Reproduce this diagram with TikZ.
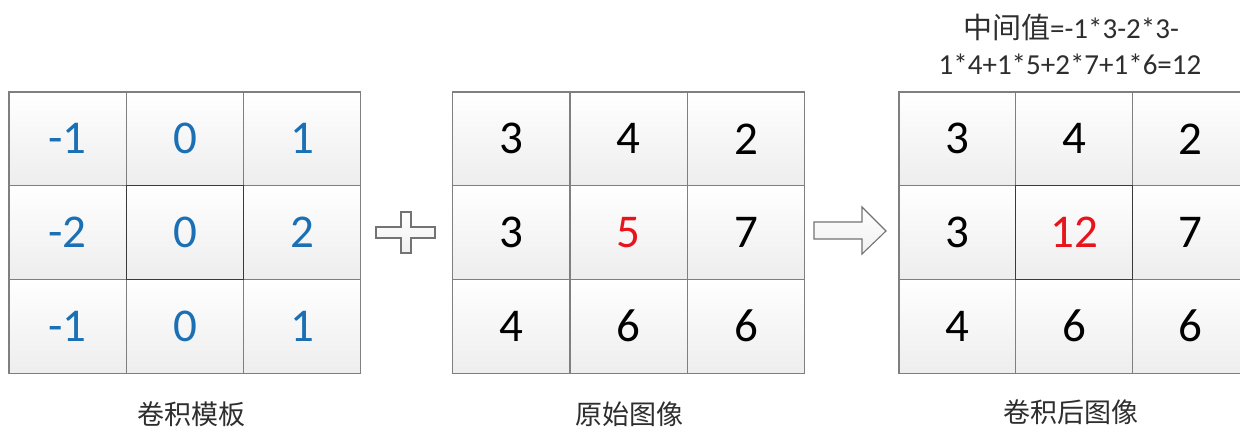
\documentclass[tikz,border=0pt]{standalone}
\usepackage{fontspec}
\setmainfont{Carlito}
\newfontfamily\cjk{Noto Sans CJK SC}
\definecolor{numblue}{HTML}{1A6FB5}
\definecolor{numred}{HTML}{E8141B}
\definecolor{cellline}{HTML}{7F7F7F}
\definecolor{centerline}{HTML}{3A3A3A}
\definecolor{labelgray}{HTML}{2E2E2E}
\tikzset{
  cell/.style={rectangle, draw=cellline, line width=1.1pt, top color=white, bottom color=black!7,
    minimum width=117.3pt, minimum height=93.7pt, inner sep=0pt, anchor=center,
    font=\fontsize{47}{52}\selectfont},
  cellc/.style={cell, minimum width=116.7pt},
  centercell/.style={draw=centerline},
  blue num/.style={text=numblue},
  red num/.style={text=numred},
  black num/.style={text=black},
  caption/.style={font=\cjk\fontsize{27}{30}\selectfont, text=labelgray, inner sep=0pt},
  formula/.style={font=\fontsize{29}{32}\selectfont, text=labelgray, inner sep=0pt},
  symbolshape/.style={draw=black!55, line width=1.1pt, top color=white, bottom color=black!6, line join=miter},
}
\begin{document}
\begin{tikzpicture}[x=1pt,y=-1pt]
\useasboundingbox (0,0) rectangle (1240,428);
\clip (0,0) rectangle (1240,428);
\fill[white] (0,0) rectangle (1240,428);
% grid 1: convolution kernel
\node[cell, blue num] (a11) at (67.65,138.85) {-1};
\node[cell, blue num] (a12) at (184.95,138.85) {0};
\node[cell, blue num] (a13) at (302.25,138.85) {1};
\node[cell, blue num] (a21) at (67.65,232.55) {-2};
\node[cell, blue num] (a23) at (302.25,232.55) {2};
\node[cell, blue num] (a31) at (67.65,326.25) {-1};
\node[cell, blue num] (a32) at (184.95,326.25) {0};
\node[cell, blue num] (a33) at (302.25,326.25) {1};
\node[cell, blue num, centercell] (a22) at (184.95,232.55) {0};
% grid 2: original image
\node[cell, black num] (b11) at (511.35,138.85) {3};
\node[cell, black num] (b12) at (628.65,138.85) {4};
\node[cell, black num] (b13) at (745.95,138.85) {2};
\node[cell, black num] (b21) at (511.35,232.55) {3};
\node[cell, red num] (b22) at (628.65,232.55) {5};
\node[cell, black num] (b23) at (745.95,232.55) {7};
\node[cell, black num] (b31) at (511.35,326.25) {4};
\node[cell, black num] (b32) at (628.65,326.25) {6};
\node[cell, black num] (b33) at (745.95,326.25) {6};
% grid 3: result image
\node[cellc, black num] (c11) at (957.35,138.85) {3};
\node[cellc, black num] (c12) at (1074.05,138.85) {4};
\node[cellc, black num] (c13) at (1190.75,138.85) {2};
\node[cellc, black num] (c21) at (957.35,232.55) {3};
\node[cellc, black num] (c23) at (1190.75,232.55) {7};
\node[cellc, black num] (c31) at (957.35,326.25) {4};
\node[cellc, black num] (c32) at (1074.05,326.25) {6};
\node[cellc, black num] (c33) at (1190.75,326.25) {6};
\node[cellc, red num, centercell] (c22) at (1074.05,232.55) {12};
% plus sign
\draw[symbolshape] (376,227) -- (401,227) -- (401,212) -- (411,212) -- (411,227) -- (435,227)
  -- (435,238) -- (411,238) -- (411,253) -- (401,253) -- (401,238) -- (376,238) -- cycle;
% block arrow
\draw[symbolshape] (814,222) -- (862,222) -- (862,207) -- (886,231) -- (862,254) -- (862,239) -- (814,239) -- cycle;
% captions
\node[caption] (l1) at (191,414) {卷积模板};
\node[caption] (l2) at (629,414) {原始图像};
\node[caption] (l3) at (1071,412) {卷积后图像};
% formula
\node[formula] (f1) at (1071,27) {{\cjk 中间值}=-1*3-2*3-};
\node[formula] (f2) at (1070,64) {1*4+1*5+2*7+1*6=12};
\end{tikzpicture}
\end{document}
